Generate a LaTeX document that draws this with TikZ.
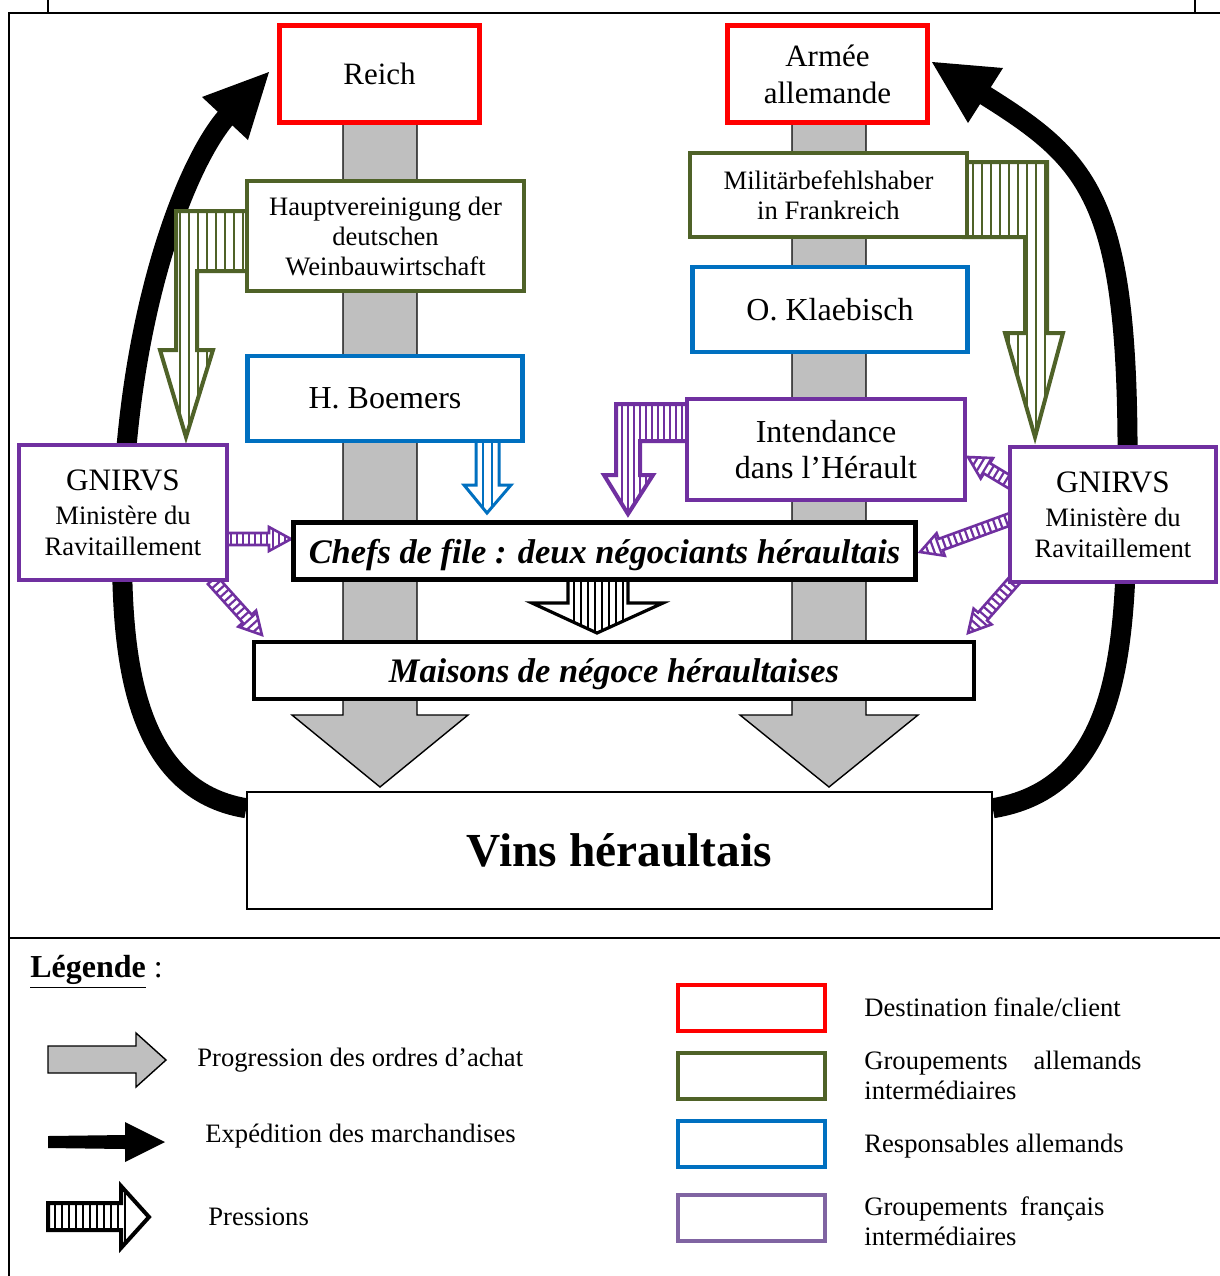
\documentclass[tikz,border=0pt]{standalone}
\usepackage{fontspec}
\setmainfont{Liberation Serif}
\usetikzlibrary{calc}
\definecolor{cred}{HTML}{FF0000}
\definecolor{cgreen}{HTML}{4F6228}
\definecolor{cblue}{HTML}{0070C0}
\definecolor{cpurp}{HTML}{7030A0}
\definecolor{cpurpl}{HTML}{8064A2}
\definecolor{cgray}{HTML}{BFBFBF}
\newcommand\fs[2]{\fontsize{#1}{#2}\selectfont}
% hatched block arrow: #1 path, #2 colour, #3 stripe list, #4 outline width, #5 stripe width
\newcommand\hatched[5]{%
  \fill[white] #1;
  \begin{scope}\clip #1;
    \foreach \hx in {#3} \draw[#2, line width=#5] (\hx,0) -- (\hx,1276);
  \end{scope}
  \draw[#2, line width=#4, line join=miter] #1;}
% small purple pressure arrow: #1 x, #2 y, #3 angle, #4 length (px)
\newcommand\smallpress[4]{%
  \begin{scope}[shift={(#1,#2)},rotate=#3,x=0.5pt,y=0.5pt]
    \pgfmathsetmacro\hb{#4-22}
    \fill[white] (-4,-6) -- (\hb,-6) -- (\hb,-12) -- (#4,0) -- (\hb,12) -- (\hb,6) -- (-4,6) -- cycle;
    \begin{scope}
      \clip (-4,-6) -- (\hb,-6) -- (\hb,-12) -- (#4,0) -- (\hb,12) -- (\hb,6) -- (-4,6) -- cycle;
      \foreach \s in {2,8,...,#4} \draw[cpurp, line width=1.1pt] (\s,-14) -- (\s,14);
    \end{scope}
    \draw[cpurp, line width=1.3pt, line join=miter] (-4,-6) -- (\hb,-6) -- (\hb,-12) -- (#4,0) -- (\hb,12) -- (\hb,6) -- (-4,6) -- cycle;
  \end{scope}}
\tikzset{
  bx/.style={draw, fill=white, inner sep=0pt, align=center, line join=miter},
  redb/.style={bx, draw=cred, line width=2.4pt, minimum width=100pt, minimum height=48.5pt, font=\fs{15.5}{18.5}},
  greenb/.style={bx, draw=cgreen, line width=2.2pt, minimum width=138.5pt, font=\fs{13.3}{15}},
  blueb/.style={bx, draw=cblue, line width=2.2pt, minimum width=137.5pt, minimum height=42.5pt, font=\fs{16}{18}},
  purpb/.style={bx, draw=cpurp, line width=2.2pt},
  blackb/.style={bx, draw=black, line width=2.4pt, minimum height=28.5pt, text depth=0pt, font=\fs{17.2}{20}\bfseries\itshape},
  colarrow/.style={fill=cgray, draw=black, line width=0.7pt, line join=miter},
  ship/.style={line width=10pt, black},
  legtxt/.style={anchor=west, inner sep=0pt, font=\fs{13.3}{15}, align=left},
  legbox/.style={bx, line width=2pt, minimum width=73.5pt, minimum height=23pt}
}
\begin{document}
\begin{tikzpicture}[x=0.5pt,y=-0.5pt]
\useasboundingbox (0,0) rectangle (1220,1276);
\fill[white] (0,0) rectangle (1220,1276);
% frame
\draw[line width=1pt] (9,1276) -- (9,13) -- (1220,13);
\draw[line width=1pt] (9,938) -- (1220,938);
\draw[line width=1pt] (48,0) -- (48,13);
\draw[line width=1pt] (1195,0) -- (1195,13);

% grey columns (purchase orders)
\draw[colarrow] (343,120) -- (343,715) -- (292,715) -- (380,787) -- (468,715) -- (417,715) -- (417,120);
\draw[colarrow] (792,120) -- (792,715) -- (740,715) -- (829,787) -- (918,715) -- (866,715) -- (866,120);

% boxes (named first so connectors can use them)
\node[redb] (reich) at (379.5,74) {Reich};
\node[redb] (armee) at (827.5,74) {Armée\\allemande};
\node[bx, draw=black, line width=0.75pt, minimum width=372.5pt, minimum height=58.5pt, font=\fs{23.7}{28}\bfseries] (vins) at (619.5,850.5) {Vins héraultais};

% shipment curves (behind the boxes)
\coordinate (tipL) at (269,72);
\coordinate (tipR) at (932,62);
\draw[ship] ($(vins.north west)+(0,17)$) .. controls (135,790) and (123,660) .. (122,560)
   .. controls (120,330) and (185,160) .. (230,113);
\fill (tipL) -- ++(-67,25) -- ++(46,43) -- cycle;
\draw[ship] ($(vins.north east)+(0,17)$) .. controls (1104,790) and (1122,680) .. (1126,560)
   .. controls (1136,200) and (1100,167) .. (978,91);
\fill (tipR) -- ++(71,6) -- ++(-35,55) -- cycle;

% pressure arrows
\hatched{(250,211) -- (176,211) -- (176,350) -- (160,350) -- (186,437) -- (213,350) -- (197,350) -- (197,271) -- (250,271) -- cycle}{cgreen}{180,189,...,246}{2pt}{0.7pt}
\hatched{(964,162) -- (1047,162) -- (1047,333) -- (1063,333) -- (1035,437) -- (1005,333) -- (1025,333) -- (1025,237) -- (964,237) -- cycle}{cgreen}{973,982,...,1046}{2pt}{0.7pt}
\hatched{(476,440) -- (476,485) -- (464,485) -- (487,513) -- (511,485) -- (499,485) -- (499,440) -- cycle}{cblue}{483,492}{1.5pt}{0.8pt}
\hatched{(690,404) -- (616,404) -- (616,475) -- (604,475) -- (628,514) -- (653,475) -- (640,475) -- (640,441) -- (690,441) -- cycle}{cpurp}{622,628,...,688}{2pt}{1pt}
\hatched{(568,578) -- (568,603) -- (532,603) -- (597,633) -- (663,603) -- (628,603) -- (628,578) -- cycle}{black}{574,581,...,626}{1.6pt}{0.8pt}

\smallpress{229}{539}{0}{62}
\smallpress{215}{583}{-47.9}{70}
\smallpress{1008}{481}{149}{46.6}
\smallpress{1008}{520}{200}{93.6}
\smallpress{1013}{582}{228.6}{68}

% remaining boxes
\node[greenb, minimum height=55pt] (haupt) at (385.5,236) {Hauptvereinigung der\\deutschen\\Weinbauwirtschaft};
\node[blueb] (boemers) at (385,398.5) {H. Boemers};
\node[greenb, minimum height=42pt] (milit) at (828.5,195) {Militärbefehlshaber\\in Frankreich};
\node[blueb] (klaeb) at (830,309.5) {O. Klaebisch};
\node[purpb, minimum width=139pt, minimum height=50.5pt, font=\fs{16}{18}] (inten) at (826,449.5) {Intendance\\dans l’Hérault};
\node[purpb, minimum width=104pt, minimum height=67.5pt, font=\fs{13.3}{15.5}] (gnl) at (123,512.5) {{\fs{15.6}{17}GNIRVS}\\[1.5pt]Ministère du\\Ravitaillement};
\node[purpb, minimum width=103pt, minimum height=67.5pt, font=\fs{13.3}{15.5}] (gnr) at (1113,514.5) {{\fs{15.6}{17}GNIRVS}\\[1.5pt]Ministère du\\Ravitaillement};
\node[blackb, minimum width=311pt] (chefs) at (604.5,551) {Chefs de file : deux négociants héraultais};
\node[blackb, line width=2pt, minimum width=360pt] (maisons) at (614,670.5) {Maisons de négoce héraultaises};

% legend
\node[anchor=west, inner sep=0pt, font=\fs{16}{18}] (leg) at (30,972) {\textbf{\underline{Légende}} :};
\draw[colarrow] (48,1046) -- (136,1046) -- (136,1033) -- (166,1060) -- (136,1087) -- (136,1073) -- (48,1073) -- cycle;
\fill[black] (48,1136) -- (125,1135) -- (125,1122) -- (165,1142) -- (125,1162) -- (125,1149) -- (48,1148) -- cycle;
\hatched{(48,1203) -- (121,1203) -- (121,1186) -- (149,1217) -- (121,1248) -- (121,1230) -- (48,1230) -- cycle}{black}{55,62,...,130}{2pt}{1pt}
\node[legtxt] (lg1) at (197,1060) {Progression des ordres d’achat};
\node[legtxt] (lg2) at (205,1136) {Expédition des marchandises};
\node[legtxt] (lg3) at (208,1217) {Pressions};

\node[legbox, draw=cred] (lb1) at (751.5,1008) {};
\node[legbox, draw=cgreen] (lb2) at (751.5,1075.5) {};
\node[legbox, draw=cblue] (lb3) at (751.5,1144) {};
\node[legbox, draw=cpurpl] (lb4) at (751.5,1217.5) {};
\node[legtxt] (lt1) at (864,1007) {Destination finale/client};
\node[legtxt] (lt2) at (864,1075) {\makebox[138.5pt][s]{Groupements allemands}\\intermédiaires};
\node[legtxt] (lt3) at (864,1146) {Responsables allemands};
\node[legtxt] (lt4) at (864,1221) {\makebox[120pt][s]{Groupements français}\\intermédiaires};
\end{tikzpicture}
\end{document}
